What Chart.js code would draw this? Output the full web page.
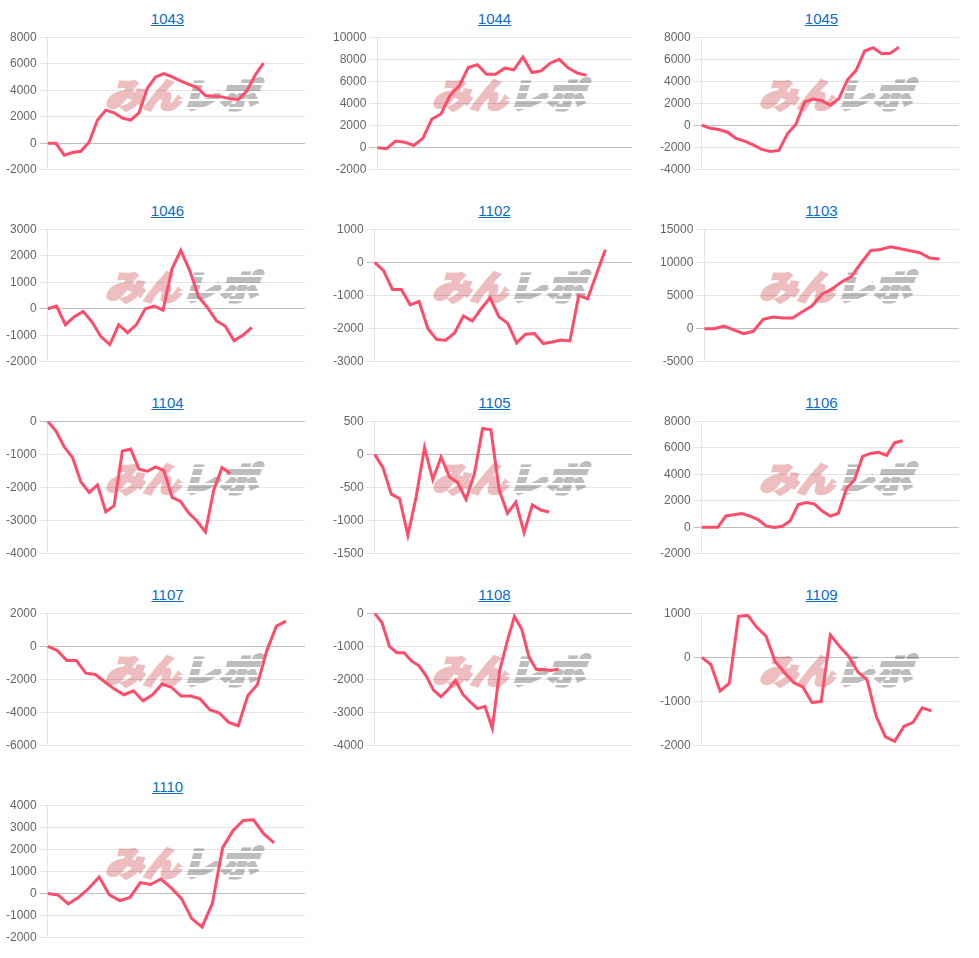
<!DOCTYPE html>
<html>
<head>
<meta charset="utf-8">
<script src="https://cdn.jsdelivr.net/npm/chart.js@4.4.1/dist/chart.umd.min.js"></script>
<style>
    body { margin: 0; background: #fff; width: 979px; height: 958px; overflow: hidden; position: relative; }
    .titulo { position: absolute; width: 327px; text-align: center; font: 15px 'Liberation Sans', Arial, sans-serif; line-height: 17px; }
    .titulo a { color: #0b6ccf; text-decoration: underline; }
    .marca { position: absolute; height: 34px; white-space: nowrap; z-index: 0;
        transform: translate(-50%, -50%) scaleX(1.12) skewX(-14deg);
        font: 900 34px 'Noto Sans CJK JP', sans-serif; line-height: 34px; letter-spacing: 0px; }
    .marca span { position: relative; display: inline-block; }
    .marca .rosa { color: #eebdbf; -webkit-text-stroke: 2.5px #eebdbf; }
    .marca .gris { color: #bdbdbd; -webkit-text-stroke: 2.5px #bdbdbd; }
    .marca .gris::after { content: ''; position: absolute; left: -4px; right: -4px; top: 0; bottom: 0;
        background: repeating-linear-gradient(to bottom, rgba(255,255,255,0) 0 6px, #fff 6px 8px); }
    canvas { position: absolute; z-index: 1; }
</style>
</head>
<body>
<script>
// titulos y datos de cada grafico
const titulos = ['1043', '1044', '1045', '1046', '1102', '1103', '1104', '1105', '1106', '1107', '1108', '1109', '1110'];
const cantidadDias = [32, 29, 31, 30, 30, 27, 32, 32, 33, 28, 36, 29, 26];

const s1043 = [0, 0, -900, -700, -600, 100, 1750, 2500, 2300, 1900, 1750, 2300, 4150, 5000, 5250, 5000, 4700, 4450, 4200, 3600, 3550, 3500, 3350, 3300, 3950, 5150, 6050];
const s1044 = [0, -100, 600, 500, 200, 850, 2600, 3050, 4750, 5600, 7250, 7500, 6650, 6650, 7200, 7050, 8200, 6800, 6950, 7650, 8000, 7200, 6750, 6550];
const s1045 = [50, -250, -350, -600, -1150, -1400, -1750, -2150, -2350, -2250, -750, 150, 2150, 2400, 2250, 1850, 2450, 4150, 5000, 6750, 7050, 6500, 6550, 7100];
const s1046 = [0, 100, -600, -300, -100, -500, -1050, -1350, -600, -900, -600, 0, 100, -50, 1500, 2200, 1450, 450, 50, -450, -650, -1200, -1000, -700];
const s1102 = [0, -250, -820, -820, -1280, -1180, -2000, -2330, -2350, -2130, -1620, -1770, -1400, -1070, -1640, -1840, -2430, -2170, -2150, -2450, -2400, -2340, -2370, -1000, -1100, -350, 380];
const s1103 = [0, 0, 400, -200, -750, -400, 1400, 1750, 1600, 1600, 2550, 3450, 5200, 5950, 7050, 7850, 9900, 11800, 11950, 12350, 12050, 11750, 11450, 10650, 10500];
const s1104 = [0, -300, -780, -1100, -1830, -2150, -1920, -2730, -2550, -900, -840, -1450, -1510, -1380, -1490, -2300, -2420, -2770, -3020, -3340, -2080, -1400, -1580];
const s1105 = [0, -200, -600, -670, -1220, -640, 100, -380, -40, -340, -430, -680, -300, 390, 370, -540, -890, -720, -1180, -760, -840, -870];
const s1106 = [0, 0, 0, 850, 940, 1040, 840, 580, 100, -20, 80, 480, 1720, 1870, 1770, 1220, 840, 1060, 2930, 3570, 5340, 5570, 5650, 5420, 6380, 6530];
const s1107 = [0, -250, -850, -850, -1620, -1700, -2150, -2580, -2920, -2680, -3290, -2920, -2270, -2480, -3000, -3000, -3170, -3820, -4020, -4590, -4790, -2960, -2310, -240, 1220, 1520];
const s1108 = [0, -290, -1000, -1190, -1190, -1440, -1580, -1890, -2320, -2520, -2300, -2030, -2450, -2680, -2880, -2810, -3470, -1730, -870, -100, -480, -1330, -1700, -1700, -1730, -1680];
const s1109 = [0, -160, -760, -590, 930, 950, 680, 480, -100, -340, -570, -670, -1020, -1000, 510, 250, 20, -330, -510, -1340, -1800, -1900, -1560, -1470, -1140, -1210];
const s1110 = [0, -60, -470, -170, 240, 750, -60, -320, -170, 500, 410, 660, 260, -230, -1130, -1510, -440, 2080, 2850, 3310, 3340, 2700, 2300];

// escala Y de cada grafico (minimo, maximo, paso)
const yMin  = [-2000, -2000, -4000, -2000, -3000, -5000, -4000, -1500, -2000, -6000, -4000, -2000, -2000];
const yMax  = [8000, 10000, 8000, 3000, 1000, 15000, 0, 500, 8000, 2000, 0, 1000, 4000];
const yPaso = [2000, 2000, 2000, 1000, 1000, 5000, 1000, 500, 2000, 2000, 1000, 1000, 1000];

const series = [s1043, s1044, s1045, s1046, s1102, s1103, s1104, s1105, s1106, s1107, s1108, s1109, s1110];

document.addEventListener('DOMContentLoaded', function () {
    titulos.forEach(function (titulo, i) {
        const col = i % 3;
        const fila = Math.floor(i / 3);

        const t = document.createElement('div');
        t.className = 'titulo';
        t.style.left = (4 + 327 * col) + 'px';
        t.style.top = (10 + 192 * fila) + 'px';
        t.innerHTML = '<a href="#">' + titulo + '</a>';
        document.body.appendChild(t);

        const m = document.createElement('div');
        m.className = 'marca';
        m.style.left = (185 + 327 * col) + 'px';
        m.style.top = (94 + 192 * fila) + 'px';
        m.innerHTML = '<span class="rosa">みん</span><span class="gris">レポ</span>';
        document.body.appendChild(m);

        const c = document.createElement('canvas');
        c.width = 302;
        c.height = 153;
        c.style.left = (3 + 327 * col) + 'px';
        c.style.top = (27 + 192 * fila) + 'px';
        document.body.appendChild(c);

        const dias = [];
        for (let d = 1; d <= cantidadDias[i]; d++) dias.push(String(d));

        new Chart(c.getContext('2d'), {
            type: 'line',
            data: {
                labels: dias,
                datasets: [{
                    label: titulo,
                    data: series[i],
                    borderColor: 'rgb(255, 76, 106)',
                    backgroundColor: 'rgb(255, 76, 106)',
                    borderWidth: 3,
                    pointRadius: 0,
                    tension: 0,
                    fill: false
                }]
            },
            options: {
                responsive: false,
                animation: false,
                layout: { padding: 0 },
                scales: {
                    x: { display: false },
                    y: {
                        min: yMin[i],
                        max: yMax[i],
                        ticks: {
                            stepSize: yPaso[i],
                            color: '#666',
                            font: { size: 12 },
                            callback: function (v) { return String(v); }  // sin separador de miles
                        },
                        grid: {
                            color: function (ctx) {
                                return ctx.tick && ctx.tick.value === 0 ? 'rgba(0,0,0,0.25)' : 'rgba(0,0,0,0.1)';
                            }
                        },
                        border: { color: 'rgba(0,0,0,0.1)' }
                    }
                },
                plugins: {
                    legend: { display: false },
                    tooltip: { enabled: false }
                }
            }
        });
    });
});
</script>
</body>
</html>
